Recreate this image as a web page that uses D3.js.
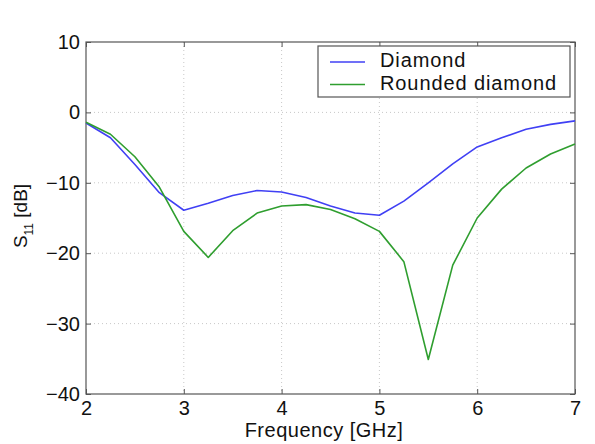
<!DOCTYPE html>
<html>
<head>
<meta charset="utf-8">
<script src="https://cdn.jsdelivr.net/npm/d3@7"></script>
<style>
  html, body { margin: 0; padding: 0; background: #fff; }
  svg { display: block; font-family: "Liberation Sans", Arial, sans-serif; }
</style>
</head>
<body>
<svg id="chart" width="595" height="444"></svg>
<script>
// Frequency sweep (GHz) and reflection coefficient S11 (dB) of two antenna shapes
const freq = [2, 2.25, 2.5, 2.75, 3, 3.25, 3.5, 3.75, 4, 4.25, 4.5, 4.75, 5, 5.25, 5.5, 5.75, 6, 6.25, 6.5, 6.75, 7];
const diamond = [-1.5, -3.6, -7.4, -11.4, -13.9, -12.9, -11.8, -11.1, -11.3, -12.1, -13.3, -14.3, -14.6, -12.6, -10.0, -7.3, -4.9, -3.6, -2.4, -1.7, -1.2];
const roundedDiamond = [-1.4, -3.1, -6.3, -10.6, -16.9, -20.6, -16.8, -14.3, -13.3, -13.1, -13.8, -15.1, -16.9, -21.2, -35.1, -21.7, -15.0, -10.9, -7.9, -5.9, -4.5];
const seriesNames = ["Diamond", "Rounded diamond"];
const xTicks = [2, 3, 4, 5, 6, 7];
const yTicks = [10, 0, -10, -20, -30, -40];

const svg = d3.select("#chart");
const plotLeft = 86, plotRight = 575, plotTop = 42, plotBottom = 394;

const x = d3.scaleLinear().domain([2, 7]).range([plotLeft, plotRight]);
const y = d3.scaleLinear().domain([-40, 10]).range([plotBottom, plotTop]);

const gridColor = "#c8c8c8";
const frameColor = "#555";
const fmt = v => String(v).replace("-", "\u2212");

// dotted grid
const grid = svg.append("g");
grid.selectAll("line.gx").data(xTicks.slice(1, -1)).join("line")
  .attr("x1", d => x(d)).attr("x2", d => x(d))
  .attr("y1", plotTop).attr("y2", plotBottom)
  .attr("stroke", gridColor).attr("stroke-dasharray", "1,3");
grid.selectAll("line.gy").data(yTicks.slice(1, -1)).join("line")
  .attr("y1", d => y(d)).attr("y2", d => y(d))
  .attr("x1", plotLeft).attr("x2", plotRight)
  .attr("stroke", gridColor).attr("stroke-dasharray", "1,3");

// axes with inward ticks
const xAxis = d3.axisBottom(x).tickValues(xTicks).tickSize(-5).tickPadding(7).tickFormat(fmt);
const yAxis = d3.axisLeft(y).tickValues(yTicks).tickSize(-5).tickPadding(6).tickFormat(fmt);

const gx = svg.append("g").attr("transform", `translate(0,${plotBottom})`).call(xAxis);
const gy = svg.append("g").attr("transform", `translate(${plotLeft},0)`).call(yAxis);
svg.append("g").attr("transform", `translate(0,${plotTop})`)
  .call(d3.axisTop(x).tickValues(xTicks).tickSize(-5).tickFormat(""));
svg.append("g").attr("transform", `translate(${plotRight},0)`)
  .call(d3.axisRight(y).tickValues(yTicks).tickSize(-5).tickFormat(""));

svg.selectAll(".domain").remove();
svg.selectAll(".tick line").attr("stroke", frameColor);
svg.selectAll(".tick text").attr("font-size", 20).attr("fill", "#111")
  .attr("font-family", "Liberation Sans, Arial, sans-serif");
gx.selectAll(".tick text").attr("dy", "0.71em");

// frame
svg.append("rect")
  .attr("x", plotLeft).attr("y", plotTop)
  .attr("width", plotRight - plotLeft).attr("height", plotBottom - plotTop)
  .attr("fill", "none").attr("stroke", frameColor).attr("stroke-width", 1.2);

// curves
const colors = ["#4040f4", "#2f9e2f"];
const line = d3.line().x((d, i) => x(freq[i])).y(d => y(d));
[diamond, roundedDiamond].forEach((s, k) => {
  svg.append("path").datum(s)
    .attr("d", line)
    .attr("fill", "none")
    .attr("stroke", colors[k])
    .attr("stroke-width", 1.6)
    .attr("stroke-linejoin", "round");
});

// axis labels
svg.append("text")
  .attr("x", 324).attr("y", 437)
  .attr("text-anchor", "middle").attr("font-size", 20).attr("letter-spacing", 0.5)
  .attr("fill", "#111")
  .text("Frequency [GHz]");

const yl = svg.append("text")
  .attr("transform", `translate(27,216) rotate(-90)`)
  .attr("text-anchor", "middle").attr("font-size", 19).attr("fill", "#111");
yl.append("tspan").text("S");
yl.append("tspan").attr("font-size", 12).attr("dy", 6).text("11");
yl.append("tspan").attr("dy", -6).text(" [dB]");

// legend
const lg = svg.append("g");
lg.append("rect")
  .attr("x", 318).attr("y", 46).attr("width", 252).attr("height", 51)
  .attr("fill", "#fff").attr("stroke", frameColor).attr("stroke-width", 1.2);
seriesNames.forEach((name, k) => {
  const cy = 62 + k * 22.5;
  lg.append("line")
    .attr("x1", 330).attr("x2", 365).attr("y1", cy).attr("y2", cy)
    .attr("stroke", colors[k]).attr("stroke-width", 1.6);
  lg.append("text")
    .attr("x", 380).attr("y", cy + 5)
    .attr("font-size", 20).attr("letter-spacing", 0.9).attr("fill", "#111")
    .text(name);
});
</script>
</body>
</html>
